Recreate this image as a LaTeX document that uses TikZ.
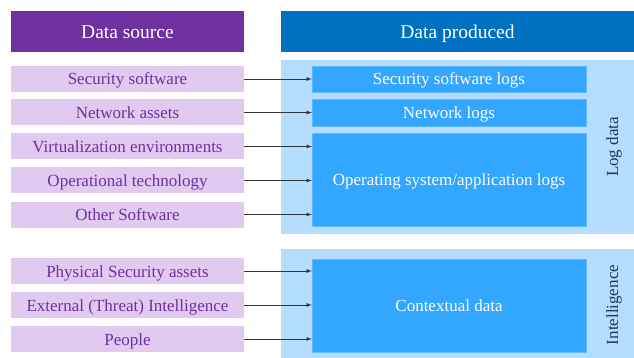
\documentclass[tikz,border=0pt]{standalone}
\usepackage{fontspec}
\newfontfamily\lsf{Liberation Serif}
\definecolor{hdrpurple}{HTML}{7030A0}
\definecolor{hdrblue}{HTML}{0070C0}
\definecolor{lav}{HTML}{E0CAF0}
\definecolor{panelblue}{HTML}{B4DDFF}
\definecolor{innerblue}{HTML}{33A6FF}
\definecolor{navy}{HTML}{1F3864}
\tikzset{
  hdr/.style={draw=none, minimum height=41pt, text=white, font=\lsf\fontsize{19.5}{22}\selectfont, inner sep=0pt, text height=17pt, text depth=2pt},
  srcbox/.style={fill=lav, minimum width=233pt, minimum height=26pt, text=hdrpurple, font=\lsf\fontsize{17}{20}\selectfont, inner sep=0pt, text height=15pt, text depth=3pt},
  inbox/.style={fill=innerblue, draw=innerblue!80!white, minimum width=274pt, text=white, font=\lsf\fontsize{17}{20}\selectfont, inner sep=0pt, text height=15pt, text depth=3pt},
  panel/.style={fill=panelblue, draw=none},
  sidelbl/.style={text=navy, font=\lsf\fontsize{17}{20}\selectfont, rotate=90, inner sep=0pt},
  conn/.style={-latex, black!80, line width=0.8pt}
}
\begin{document}
\begin{tikzpicture}[x=1pt,y=-1pt]
\useasboundingbox (0,0) rectangle (634,358);
% headers
\node[hdr, fill=hdrpurple, minimum width=233pt] (hs) at (127.5,31.5) {Data source};
\node[hdr, fill=hdrblue, minimum width=353pt] (hp) at (457.5,31.5) {Data produced};
% panels
\fill[panel] (281,60) rectangle (634,234);
\fill[panel] (281,249) rectangle (634,358);
% inner boxes
\node[inbox, minimum height=26pt] (ssl) at (449,79) {Security software logs};
\node[inbox, minimum height=27pt] (nl) at (449,112.5) {Network logs};
\node[inbox, minimum height=93pt] (os) at (449,179.5) {Operating system/application logs};
\node[inbox, minimum height=93pt] (cd) at (449,305.5) {Contextual data};
\node[sidelbl] (ld) at (614,147) {Log data};
\node[sidelbl] (il) at (614,305) {Intelligence};
% sources
\node[srcbox] (s1) at (127.5,79) {Security software};
\node[srcbox] (s2) at (127.5,112.5) {Network assets};
\node[srcbox] (s3) at (127.5,146.5) {Virtualization environments};
\node[srcbox] (s4) at (127.5,180.5) {Operational technology};
\node[srcbox] (s5) at (127.5,214.5) {Other Software};
\node[srcbox] (s6) at (127.5,271) {Physical Security assets};
\node[srcbox] (s7) at (127.5,305) {External (Threat) Intelligence};
\node[srcbox] (s8) at (127.5,339) {People};
% connectors
\draw[conn] (s1.east) -- (ssl.west);
\draw[conn] (s2.east) -- (nl.west);
\draw[conn] (s3.east) -- (s3.east -| os.west);
\draw[conn] (s4.east) -- (s4.east -| os.west);
\draw[conn] (s5.east) -- (s5.east -| os.west);
\draw[conn] (s6.east) -- (s6.east -| cd.west);
\draw[conn] (s7.east) -- (s7.east -| cd.west);
\draw[conn] (s8.east) -- (s8.east -| cd.west);
\end{tikzpicture}
\end{document}
